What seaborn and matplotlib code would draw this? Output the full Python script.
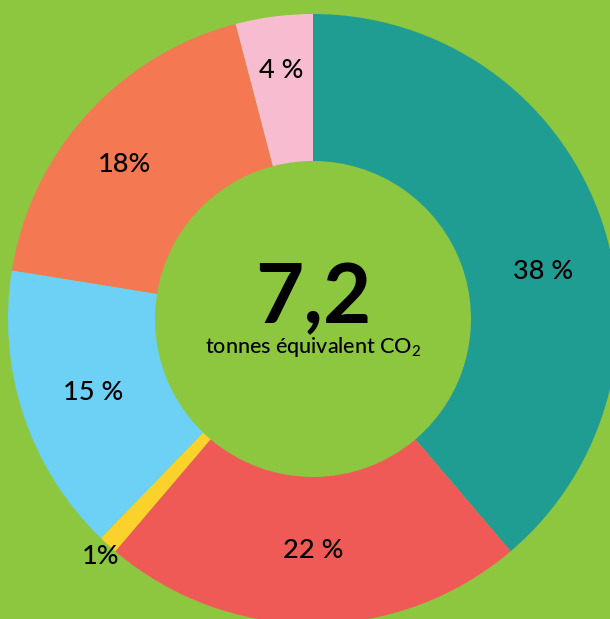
import numpy as np
import matplotlib
matplotlib.use("Agg")
import matplotlib.pyplot as plt
import seaborn as sns

# data
categories = ["A", "B", "C", "D", "E", "F"]
values = [38, 22, 1, 15, 18, 4]
labels = ["38 %", "22 %", "1%", "15 %", "18%", "4 %"]
colors = ["#209D93", "#EF5A56", "#FBD22B", "#6CD1F5", "#F47952", "#F7BCD0"]
total_text = "7,2"
unit_text = "tonnes équivalent CO$_2$"

# style
label_r = [0.77, 0.76, 1.045, 0.76, 0.80, 0.82]
label_dang = [-8.6, 0, 0.5, 0, 3, 0]
bg = "#8DC63F"

sns.set_theme(style="white")
plt.rcParams["font.family"] = ["Lato", "DejaVu Sans"]
plt.rcParams["mathtext.fontset"] = "custom"
plt.rcParams["mathtext.rm"] = "Lato:medium"
plt.rcParams["mathtext.it"] = "Lato:medium"

W, H = 610, 619
fig = plt.figure(figsize=(W / 100, H / 100), dpi=100, facecolor=bg)
ax = fig.add_axes([0, 0, 1, 1])
ax.set_facecolor(bg)

cx, cy = 313, 319
R = 305
Rin = 158

wedges, _ = ax.pie(values, colors=colors, startangle=90, counterclock=False,
                   radius=R, center=(0, 0),
                   wedgeprops=dict(width=R - Rin, linewidth=0),
                   normalize=True)
ax.set_xlim(-cx, W - cx)
ax.set_ylim(-(H - cy), cy)
ax.set_aspect("equal")
ax.axis("off")

for w, lab, rf, da in zip(wedges, labels, label_r, label_dang):
    ang = np.deg2rad((w.theta1 + w.theta2) / 2 + da)
    ax.text(rf * R * np.cos(ang), rf * R * np.sin(ang), lab,
            ha="center", va="center", fontsize=19.5, color="black",
            fontweight="medium")

ax.text(0, 19, total_text, ha="center", va="center", fontsize=60,
        color="black", fontweight="bold")
ax.text(0, -34, unit_text, ha="center", va="baseline", fontsize=15.5,
        color="black", fontweight="medium")

fig.savefig("out.png", dpi=100, facecolor=bg)
